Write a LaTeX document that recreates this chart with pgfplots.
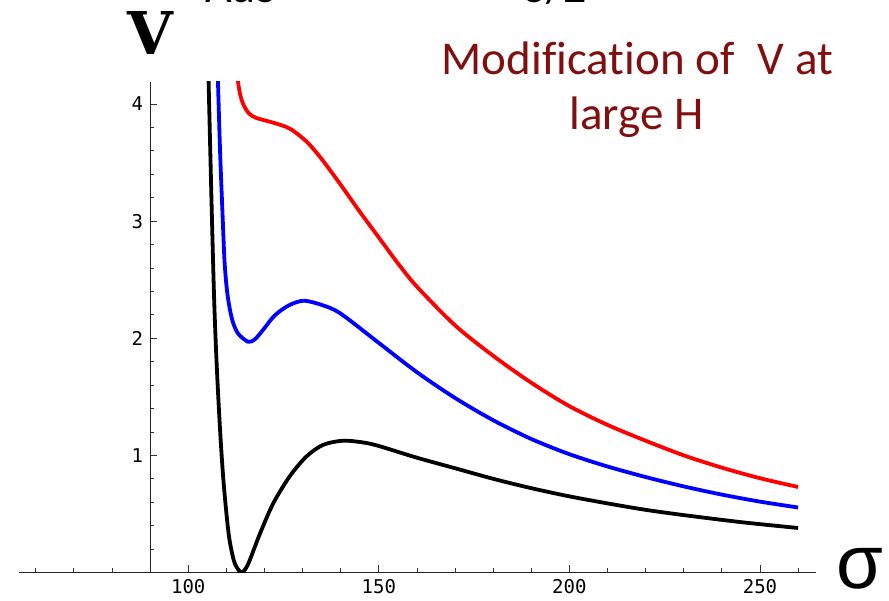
\documentclass[border=0pt]{standalone}
\usepackage{pgfplots}
\pgfplotsset{compat=1.18}
\usepackage{pgfplotstable}
\usepackage{fontspec}
\setmainfont{Carlito}
\newfontfamily\notefont[Ligatures=NoCommon]{Carlito}
\newfontfamily\tickfont{DejaVu Sans Mono}
\newfontfamily\vfont{DejaVu Serif}
\newfontfamily\sigmafont{Liberation Sans}
\definecolor{titlered}{RGB}{128,16,16}

% potential V(sigma)
\pgfplotstableread{
s v
105.3 4.25
106.1 3.18
106.8 2.33
107.5 1.75
108.4 1.19
109.3 0.76
110.6 0.33
111.9 0.11
113.0 0.03
114.1 0.00
115.2 0.04
116.2 0.11
118.8 0.33
122.3 0.59
126.6 0.82
131.0 0.99
135.4 1.09
140.6 1.125
145.9 1.11
150.0 1.08
160.0 0.98
170.0 0.89
180.0 0.80
190.0 0.72
200.0 0.65
210.0 0.59
220.0 0.535
230.0 0.49
245.0 0.43
260.0 0.38
}\blackdata

\pgfplotstableread{
s v
107.75 4.25
108.35 3.60
109.06 3.01
109.50 2.67
110.03 2.45
110.63 2.30
111.60 2.15
113.07 2.04
115.7 1.97
117.45 1.99
119.6 2.07
122.0 2.17
124.0 2.23
127.0 2.29
130.5 2.32
135.4 2.28
140.0 2.21
150.0 1.96
160.0 1.71
170.0 1.49
180.0 1.30
190.0 1.14
200.0 1.01
210.0 0.905
220.0 0.815
230.0 0.735
240.0 0.665
250.0 0.605
260.0 0.555
}\bluedata

\pgfplotstableread{
s v
112.8 4.25
113.5 4.10
114.4 4.00
115.9 3.92
117.9 3.88
122.3 3.84
126.6 3.79
131.0 3.68
135.0 3.53
140.0 3.31
145.0 3.08
150.0 2.86
155.0 2.64
160.0 2.44
170.0 2.11
180.0 1.85
190.0 1.62
200.0 1.42
210.0 1.26
220.0 1.125
230.0 1.00
240.0 0.895
250.0 0.805
260.0 0.73
}\reddata

\begin{document}
\begin{tikzpicture}
% x is plotted as sigma-90 so that the y axis sits at sigma=90
\begin{axis}[name=ax, scale only axis, width=398.5pt, height=245.4pt,
  axis lines=middle, axis line style={-, black!85, line width=0.5pt},
  xmin=-34.4, xmax=174.7, ymin=0, ymax=4.19, enlargelimits=false,
  xtick={10,60,110,160}, xticklabels={100,150,200,250},
  minor xtick={-30,-20,-10,0,20,30,40,50,70,80,90,100,120,130,140,150,170},
  ytick={1,2,3,4}, yticklabels={1,2,3,4},
  minor ytick={0.2,0.4,0.6,0.8,1.2,1.4,1.6,1.8,2.2,2.4,2.6,2.8,3.2,3.4,3.6,3.8,4.2},
  tick align=inside, major tick length=3.5pt, minor tick length=2pt,
  tick style={black!80, line width=0.4pt},
  ticklabel style={font=\tickfont\fontsize{9.5}{11}\selectfont},
  clip=true]
\addplot[black, line width=1.9pt, smooth] table[x expr=\thisrow{s}-90, y=v] {\blackdata};
\addplot[blue, line width=1.9pt, smooth] table[x expr=\thisrow{s}-90, y=v] {\bluedata};
\addplot[red, line width=1.9pt, smooth] table[x expr=\thisrow{s}-90, y=v] {\reddata};
\end{axis}
\coordinate (O) at ([shift={(-9.5pt,40.85pt)}]ax.north west);
\pgfresetboundingbox
\path[use as bounding box] (O) rectangle ([shift={(444.5pt,-300pt)}]O);
\begin{scope}[shift={(O)}, x=0.5pt, y=-0.5pt]
  \node[anchor=base, inner sep=0, font=\vfont\bfseries\fontsize{29.5}{30}\selectfont] at (150,55) {V};
  \node[anchor=base, inner sep=0, font=\sigmafont\fontsize{38}{38}\selectfont] at (860,588) {σ};
  \node[anchor=base, inner sep=0, text=titlered, font=\notefont\fontsize{23.5}{27}\selectfont] at (637.5,75) {Modification of\hspace{0.5em}V at};
  \node[anchor=base, inner sep=0, text=titlered, font=\notefont\fontsize{23.5}{27}\selectfont] at (636.5,130) {large H};
  \node[anchor=base, inner sep=0, font=\fontsize{23}{27}\selectfont] at (241,3) {AdS};
  \node[anchor=base, inner sep=0, font=\fontsize{23}{27}\selectfont] at (555,3) {3/2};
\end{scope}
\end{tikzpicture}
\end{document}
